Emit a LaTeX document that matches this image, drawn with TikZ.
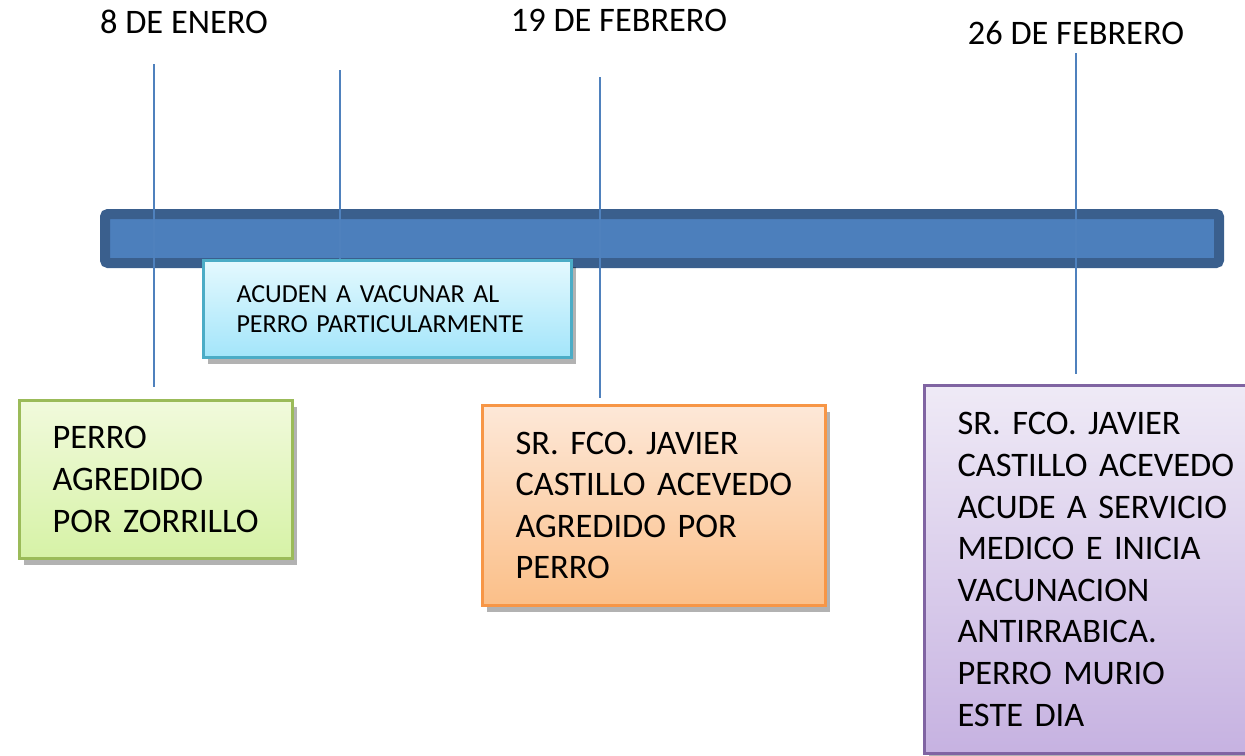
\documentclass[tikz,border=0pt]{standalone}
\usepackage{fontspec}
\setmainfont{Carlito}
\usetikzlibrary{shadows}
\definecolor{linec}{HTML}{4F81BD}
\definecolor{barborder}{HTML}{3A5F8D}
\definecolor{barfill}{HTML}{4C7FBC}
\definecolor{gborder}{HTML}{9BBB59}
\definecolor{gtop}{HTML}{F1FADC}
\definecolor{gbot}{HTML}{D6F2A6}
\definecolor{cborder}{HTML}{4BACC6}
\definecolor{ctop}{HTML}{E4F9FE}
\definecolor{cbot}{HTML}{A3E5FA}
\definecolor{oborder}{HTML}{F79646}
\definecolor{otop}{HTML}{FDE8D8}
\definecolor{obot}{HTML}{FBBF88}
\definecolor{pborder}{HTML}{8064A2}
\definecolor{ptop}{HTML}{EFEAF6}
\definecolor{pbot}{HTML}{C6B2E1}
\tikzset{
  datelbl/.style={anchor=base, inner sep=0pt, font=\fontsize{17.2}{20.8}\selectfont},
  tickline/.style={draw=linec, line width=1.2pt},
  evbox/.style={rectangle, anchor=north west, align=left, inner xsep=16.5pt, inner ysep=0pt,
    line width=1.5pt, font=\fontsize{17.2}{20.8}\selectfont,
    drop shadow={shadow xshift=2pt, shadow yshift=-3pt, opacity=0.3, fill=black}},
  barstyle/.style={rectangle, draw=barborder, fill=barfill, line width=5pt, rounded corners=1.5pt,
    minimum width=557pt, minimum height=24.5pt, inner sep=0pt}
}
\begin{document}
\begin{tikzpicture}[x=0.5pt,y=-0.5pt]
\useasboundingbox (0,0) rectangle (1245,755);
\clip (0,0) rectangle (1245,755);
% date labels
\node[datelbl] (d1) at (184,33) {8 DE ENERO};
\node[datelbl] (d2) at (619,31) {19 DE FEBRERO};
\node[datelbl] (d3) at (1076,44) {26 DE FEBRERO};
% bar
\node[barstyle] (bar) at (662,238.5) {};
% event boxes
\node[evbox, draw=cborder, top color=ctop, bottom color=cbot, minimum height=48.5pt,
  text width=151pt, font=\fontsize{13}{15}\selectfont] (cyan) at (202,259)
  {ACUDEN A VACUNAR AL\\PERRO~PARTICULARMENTE};
% tick lines
\coordinate (t1a) at (154,64);  \coordinate (t1b) at (154,387);
\coordinate (t2a) at (340,70);
\coordinate (t3a) at (600,77);  \coordinate (t3b) at (600,398);
\coordinate (t4a) at (1076,53); \coordinate (t4b) at (1076,374);
\draw[tickline] (t1a) -- (t1b);
\draw[tickline] (t3a) -- (t3b);
\draw[tickline] (t4a) -- (t4b);
\draw[tickline] (t2a) -- (t2a |- cyan.north);
\node[evbox, draw=gborder, top color=gtop, bottom color=gbot, minimum height=79pt,
  text width=103.5pt] (green) at (18,399)
  {PERRO\\AGREDIDO\\POR~ZORRILLO};
\node[evbox, draw=oborder, top color=otop, bottom color=obot, minimum height=100pt,
  text width=138.5pt] (orange) at (481,404)
  {SR.~FCO.~JAVIER\\CASTILLO~ACEVEDO\\AGREDIDO~POR\\PERRO};
\node[evbox, draw=pborder, top color=ptop, bottom color=pbot, minimum height=184pt,
  text width=138pt] (purple) at (923,384)
  {SR.~FCO.~JAVIER\\CASTILLO~ACEVEDO\\ACUDE~A~SERVICIO\\MEDICO~E~INICIA\\VACUNACION\\ANTIRRABICA.\\PERRO~MURIO\\ESTE~DIA};
\end{tikzpicture}
\end{document}
